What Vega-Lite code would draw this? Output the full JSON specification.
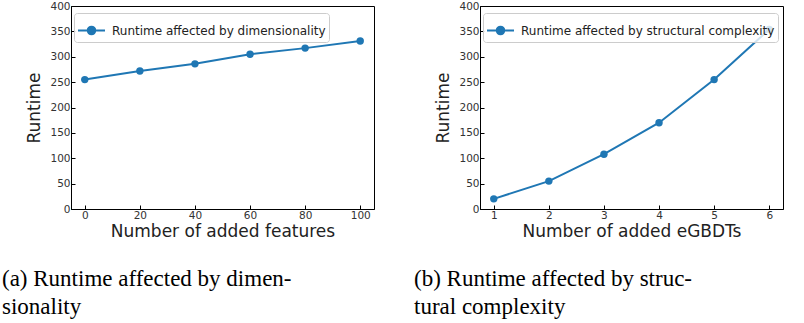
{
  "$schema": "https://vega.github.io/schema/vega-lite/v6.json",
  "padding": {"left": 1, "top": 0, "right": 4, "bottom": 0},
  "background": "white",
  "config": {
    "view": {"stroke": "black", "strokeWidth": 1},
    "axis": {
      "grid": false,
      "domainColor": "black",
      "tickColor": "black",
      "tickSize": -4,
      "labelFont": "DejaVu Sans",
      "labelFontSize": 10.5,
      "labelColor": "#333",
      "labelPadding": 5,
      "titleFont": "DejaVu Sans",
      "titleFontSize": 17,
      "titleFontWeight": "normal",
      "titleColor": "#222"
    },
    "axisY": {"titlePadding": 6},
    "axisX": {"titlePadding": 3},
    "legend": {
      "title": null,
      "orient": "none",
      "legendX": 3,
      "legendY": 7,
      "labelFont": "DejaVu Sans",
      "labelFontSize": 12,
      "labelColor": "#222",
      "labelOffset": 6,
      "labelLimit": 0,
      "strokeColor": "#cccccc",
      "fillColor": "rgba(255,255,255,0.8)",
      "cornerRadius": 3,
      "padding": 3,
      "symbolType": "M -1 0 L 1 0 M 0.28 0 A 0.28 0.28 0 1 1 -0.28 0 A 0.28 0.28 0 1 1 0.28 0 Z",
      "symbolSize": 729,
      "symbolStrokeWidth": 2
    }
  },
  "resolve": {"scale": {"color": "independent"}, "legend": {"color": "independent"}},
  "bounds": "flush",
  "spacing": 106,
  "hconcat": [
    {
      "width": 303,
      "height": 203,
      "title": {
        "text": ["(a) Runtime affected by dimen-", "sionality"],
        "orient": "bottom",
        "anchor": "start",
        "frame": "group",
        "dx": -69,
        "font": "Liberation Serif",
        "fontSize": 23,
        "fontWeight": "normal",
        "lineHeight": 28,
        "offset": 28,
        "color": "black"
      },
      "data": {
        "values": [
          {"features": 0, "runtime": 255, "series": "Runtime affected by dimensionality"},
          {"features": 20, "runtime": 272, "series": "Runtime affected by dimensionality"},
          {"features": 40, "runtime": 286, "series": "Runtime affected by dimensionality"},
          {"features": 60, "runtime": 305, "series": "Runtime affected by dimensionality"},
          {"features": 80, "runtime": 317, "series": "Runtime affected by dimensionality"},
          {"features": 100, "runtime": 331, "series": "Runtime affected by dimensionality"}
        ]
      },
      "mark": {"type": "line", "strokeWidth": 2, "point": {"filled": true, "size": 55}},
      "encoding": {
        "x": {
          "field": "features",
          "type": "quantitative",
          "scale": {"domain": [-5, 105], "nice": false, "zero": false},
          "axis": {"values": [0, 20, 40, 60, 80, 100], "title": "Number of added features"}
        },
        "y": {
          "field": "runtime",
          "type": "quantitative",
          "scale": {"domain": [0, 400], "nice": false},
          "axis": {"values": [0, 50, 100, 150, 200, 250, 300, 350, 400], "title": "Runtime"}
        },
        "color": {
          "field": "series",
          "type": "nominal",
          "scale": {"range": ["#1f77b4"]},
          "legend": {
            "encode": {"symbols": {"update": {"fill": {"value": "#1f77b4"}, "stroke": {"value": "#1f77b4"}}}}
          }
        }
      }
    },
    {
      "width": 303,
      "height": 203,
      "title": {
        "text": ["(b) Runtime affected by struc-", "tural complexity"],
        "orient": "bottom",
        "anchor": "start",
        "frame": "group",
        "dx": -66,
        "font": "Liberation Serif",
        "fontSize": 23,
        "fontWeight": "normal",
        "lineHeight": 28,
        "offset": 28,
        "color": "black"
      },
      "data": {
        "values": [
          {"trees": 1, "runtime": 20, "series": "Runtime affected by structural complexity"},
          {"trees": 2, "runtime": 55, "series": "Runtime affected by structural complexity"},
          {"trees": 3, "runtime": 108, "series": "Runtime affected by structural complexity"},
          {"trees": 4, "runtime": 170, "series": "Runtime affected by structural complexity"},
          {"trees": 5, "runtime": 255, "series": "Runtime affected by structural complexity"},
          {"trees": 6, "runtime": 354, "series": "Runtime affected by structural complexity"}
        ]
      },
      "mark": {"type": "line", "strokeWidth": 2, "point": {"filled": true, "size": 55}},
      "encoding": {
        "x": {
          "field": "trees",
          "type": "quantitative",
          "scale": {"domain": [0.75, 6.25], "nice": false, "zero": false},
          "axis": {"values": [1, 2, 3, 4, 5, 6], "title": "Number of added eGBDTs"}
        },
        "y": {
          "field": "runtime",
          "type": "quantitative",
          "scale": {"domain": [0, 400], "nice": false},
          "axis": {"values": [0, 50, 100, 150, 200, 250, 300, 350, 400], "title": "Runtime"}
        },
        "color": {
          "field": "series",
          "type": "nominal",
          "scale": {"range": ["#1f77b4"]},
          "legend": {
            "encode": {"symbols": {"update": {"fill": {"value": "#1f77b4"}, "stroke": {"value": "#1f77b4"}}}}
          }
        }
      }
    }
  ]
}
